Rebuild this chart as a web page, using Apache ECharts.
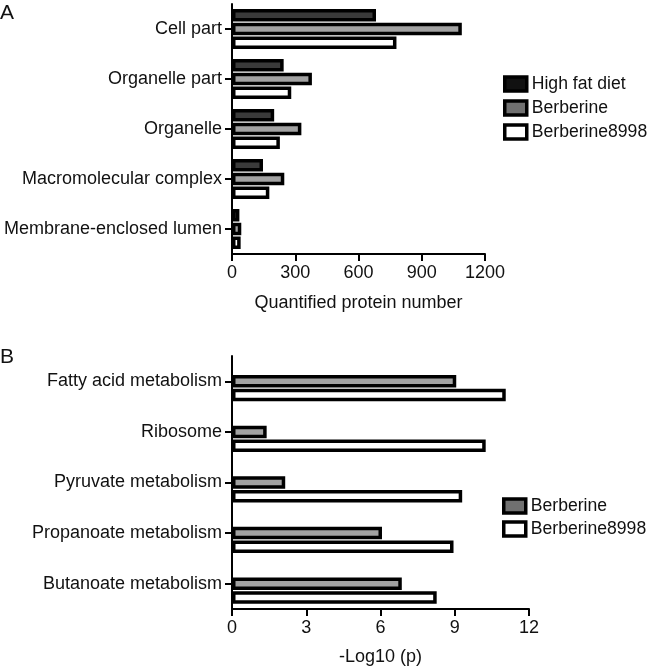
<!DOCTYPE html>
<html>
<head>
<meta charset="utf-8">
<script src="https://cdn.jsdelivr.net/npm/echarts@6/dist/echarts.min.js"></script>
<style>
html,body{margin:0;padding:0;background:#fff;}
#chart{width:650px;height:668px;}
</style>
</head>
<body>
<div id="chart"></div>
<script>
// Panel A data
var categoriesA = ['Cell part', 'Organelle part', 'Organelle', 'Macromolecular complex', 'Membrane-enclosed lumen'];
var highFatA = [683, 245, 200, 147, 35];
var berberineA = [1090, 379, 329, 248, 44];
var berberine8998A = [780, 281, 227, 177, 41];
var ticksA = [0, 300, 600, 900, 1200];

// Panel B data
var categoriesB = ['Fatty acid metabolism', 'Ribosome', 'Pyruvate metabolism', 'Propanoate metabolism', 'Butanoate metabolism'];
var highFatB = [null, null, null, null, null];
var berberineB = [9.06, 1.40, 2.15, 6.06, 6.86];
var berberine8998B = [11.06, 10.25, 9.30, 8.95, 8.27];
var ticksB = [0, 3, 6, 9, 12];

var FONT = 'Liberation Sans, Arial, sans-serif';
var DARK = '#3a3a3a', GREY = '#a2a2a2', WHITE = '#ffffff';
var TXT = '#111';

function catAxis(gi, cats) {
  return {
    type: 'category', gridIndex: gi, data: cats, inverse: true,
    axisLine: {show: true, lineStyle: {color: '#000', width: 2}},
    axisTick: {show: true, alignWithLabel: true, length: 7, lineStyle: {color: '#000', width: 2}},
    axisLabel: {margin: 10, fontFamily: FONT, fontSize: 18, color: TXT}
  };
}
function valAxis(gi, ticks, name, gap) {
  return {
    type: 'value', gridIndex: gi, min: ticks[0], max: ticks[ticks.length - 1],
    interval: ticks[1] - ticks[0],
    name: name, nameLocation: 'middle', nameGap: gap,
    nameTextStyle: {fontFamily: FONT, fontSize: 18, color: TXT},
    axisLine: {show: true, lineStyle: {color: '#000', width: 2}},
    axisTick: {show: true, length: 7, lineStyle: {color: '#000', width: 2}},
    axisLabel: {margin: 10, fontFamily: FONT, fontSize: 18, color: TXT,
      formatter: function (v) { return String(v); }},
    splitLine: {show: false}
  };
}
function barSeries(name, gi, data, color) {
  return {
    type: 'bar', name: name, xAxisIndex: gi, yAxisIndex: gi, data: data,
    barWidth: 12.5, barGap: '10%',
    itemStyle: {color: color, borderColor: '#000', borderWidth: 3.5},
    emphasis: {disabled: true}, animation: false
  };
}
function legendItem(name, color) {
  return {name: name, itemStyle: {color: color, borderColor: '#000', borderWidth: 3.5}};
}

var chart = echarts.init(document.getElementById('chart'), null, {renderer: 'canvas'});
chart.setOption({
  animation: false,
  grid: [
    {left: 232, top: 4, width: 253, height: 250},
    {left: 232, top: 356, width: 297, height: 253}
  ],
  xAxis: [valAxis(0, ticksA, 'Quantified protein number', 40), valAxis(1, ticksB, '-Log10 (p)', 39)],
  yAxis: [catAxis(0, categoriesA), catAxis(1, categoriesB)],
  legend: [
    {
      orient: 'vertical', left: 503, top: 75, padding: 0, itemWidth: 22, itemHeight: 14, itemGap: 6,
      icon: 'rect', selectedMode: false,
      textStyle: {fontFamily: FONT, fontSize: 17.6, color: TXT, lineHeight: 16},
      data: [legendItem('High fat diet', '#111'), legendItem('Berberine', '#707070'), legendItem('Berberine8998', '#fff')]
    },
    {
      orient: 'vertical', left: 502, top: 497, padding: 0, itemWidth: 22, itemHeight: 14, itemGap: 5,
      icon: 'rect', selectedMode: false,
      textStyle: {fontFamily: FONT, fontSize: 17.6, color: TXT, lineHeight: 16},
      data: [legendItem('Berberine', '#707070'), legendItem('Berberine8998', '#fff')]
    }
  ],
  graphic: [
    {type: 'text', left: 0, top: 3, style: {text: 'A', font: '21px ' + FONT, fill: TXT}},
    {type: 'text', left: 0, top: 347, style: {text: 'B', font: '21px ' + FONT, fill: TXT}}
  ],
  series: [
    barSeries('High fat diet', 0, highFatA, DARK),
    barSeries('Berberine', 0, berberineA, GREY),
    barSeries('Berberine8998', 0, berberine8998A, WHITE),
    barSeries('High fat diet', 1, highFatB, DARK),
    barSeries('Berberine', 1, berberineB, GREY),
    barSeries('Berberine8998', 1, berberine8998B, WHITE)
  ]
});
</script>
</body>
</html>
